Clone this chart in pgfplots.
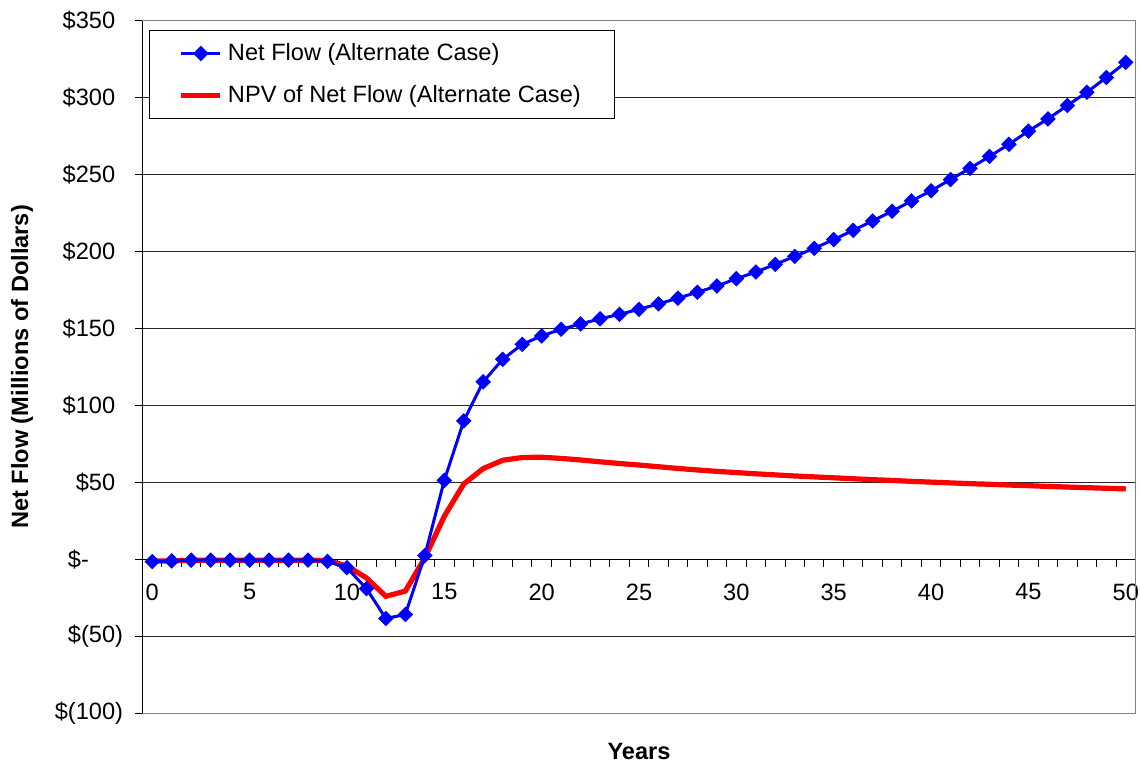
\documentclass[border=0pt]{standalone}
\usepackage{fontspec}
\setmainfont{Liberation Sans}
\usepackage{pgfplots}
\pgfplotsset{compat=1.18}
\pgfplotstableread{
x blue red
0 -1.5 -1
1 -1 -1
2 -0.5 -0.5
3 -0.5 -0.5
4 -0.5 -0.5
5 -0.5 -0.5
6 -0.5 -0.5
7 -0.5 -0.5
8 -0.5 -0.5
9 -1.3 -0.8
10 -5.4 -4.3
11 -19 -12
12 -38.4 -24
13 -35.8 -20.6
14 2.5 1
15 51.3 28
16 90 49
17 115.4 59
18 130 64.4
19 139.7 66.2
20 145.2 66.4
21 149.5 65.6
22 153 64.6
23 156.3 63.4
24 159.2 62.3
25 162.5 61.3
26 166 60.2
27 169.7 59.1
28 173.6 58.1
29 177.6 57.2
30 182.4 56.4
31 186.7 55.6
32 191.7 54.9
33 196.9 54.2
34 202.1 53.6
35 207.8 53
36 213.8 52.4
37 219.9 51.8
38 226.2 51.3
39 232.9 50.7
40 239.5 50.2
41 246.8 49.7
42 254.1 49.2
43 261.8 48.8
44 269.7 48.3
45 278.3 47.9
46 286.2 47.4
47 294.9 47
48 303.5 46.6
49 313.1 46.2
50 322.9 45.8
}\datatable
\newcommand{\fs}{\fontsize{11.8}{14}\selectfont}
\begin{document}
\begin{tikzpicture}
\begin{axis}[
  at={(0,0)}, anchor=south west,
  scale only axis, width=496.5pt, height=346.3pt,
  xmin=-0.5, xmax=50.5, ymin=-100, ymax=350,
  axis x line=middle, axis y line=left,
  axis line style={-, black, line width=0.6pt},
  xtick={0,5,...,50},
  xticklabels={0,5,10,15,20,25,30,35,40,45,50},
  minor xtick={-0.5,0.5,...,50.5},
  major x tick style={draw=none},
  minor x tick style={black, line width=0.5pt, yshift=-2pt},
  minor tick length=4pt,
  ytick={-100,-50,...,350},
  yticklabels={\$(100),\$(50),\$-\hphantom{00)},\$50\hphantom{)},\$100\hphantom{)},\$150\hphantom{)},\$200\hphantom{)},\$250\hphantom{)},\$300\hphantom{)},\$350\hphantom{)}},
  ytick align=outside,
  major tick length=3.5pt,
  major y tick style={black, line width=0.5pt},
  ymajorgrids,
  grid style={black!85, line width=0.5pt},
  tick label style={font=\fs},
  xticklabel style={anchor=center, yshift=-14.5pt},
  yticklabel style={anchor=east, xshift=-2.7pt},
  xlabel={Years},
  ylabel={Net Flow (Millions of Dollars)},
  every axis x label/.style={at={(axis description cs:0.5,-0.05458)}, anchor=center, font=\fs\bfseries},
  every axis y label/.style={at={(axis description cs:-0.12135,0.5)}, rotate=90, anchor=center, font=\fs\bfseries},
  legend style={at={(axis description cs:0,1)}, anchor=north west, xshift=3.4pt, yshift=-4.65pt,
    draw=black, line width=0.5pt, font=\fs, fill=white,
    inner xsep=14.5pt, inner ysep=4pt, row sep=6pt,
    nodes={inner sep=2.5pt}},
  legend cell align=left,
  legend image code/.code={\draw[mark repeat=2, mark phase=2, #1] plot coordinates {(0pt,0pt) (9.75pt,0pt) (19.5pt,0pt)};},
  clip=false,
]
\addlegendimage{blue, line width=1.5pt, mark=square*, mark size=2pt, mark options={rotate=45, solid}}
\addlegendentry{Net Flow (Alternate Case)}
\addplot[red, line width=2.6pt, no marks] table[x=x, y=red] {\datatable};
\addlegendentry{NPV of Net Flow (Alternate Case)}
\addplot[blue, line width=1.5pt, mark=square*, mark size=2pt, mark options={rotate=45, solid}, forget plot] table[x=x, y=blue] {\datatable};
\end{axis}
\draw[black!50, line width=0.6pt] (0,0) rectangle (496.5pt,346.3pt);
\draw[black, line width=0.6pt] (0,0) -- (0,346.3pt);
\pgfresetboundingbox
\path (-71.25pt,-25.85pt) rectangle (498.75pt,356.65pt);
\end{tikzpicture}
\end{document}
